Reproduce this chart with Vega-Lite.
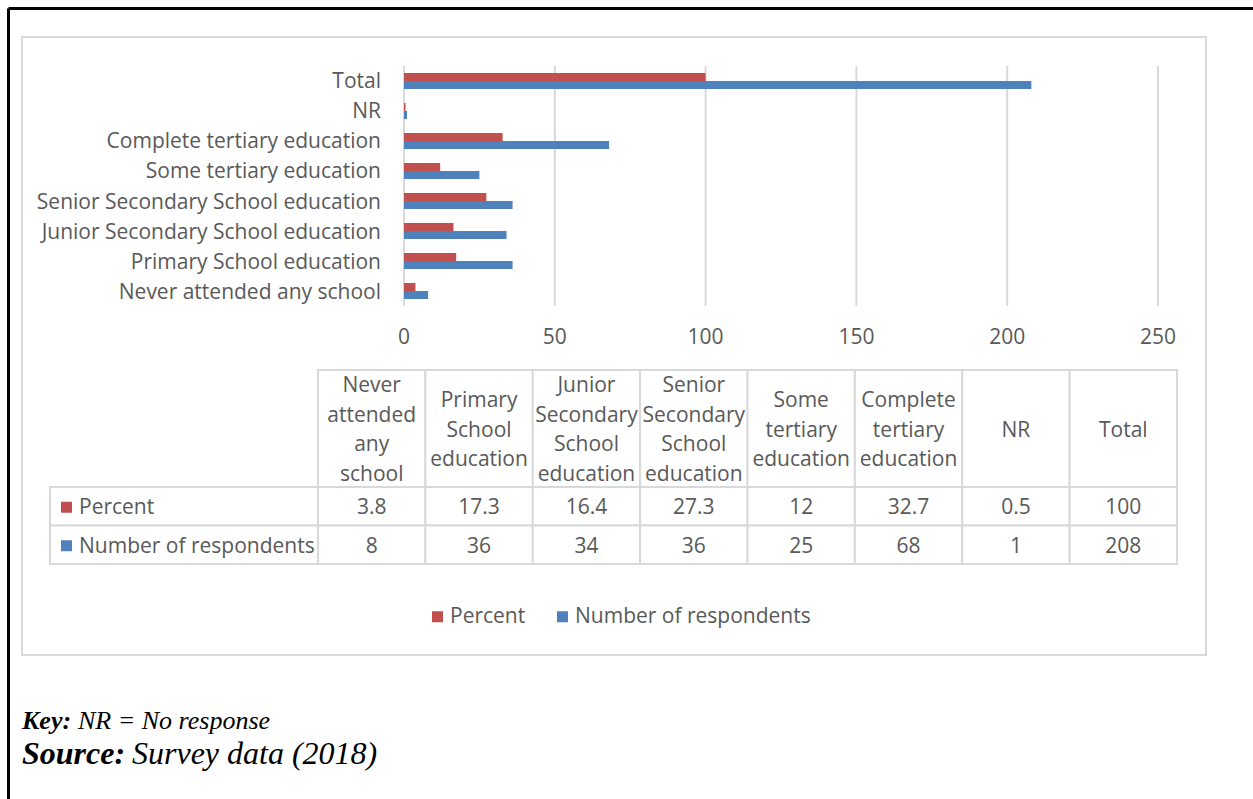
{
  "$schema": "https://vega.github.io/schema/vega-lite/v6.json",
  "width": 1253,
  "height": 799,
  "autosize": {"type": "fit", "contains": "padding"},
  "padding": {"left": 7, "top": 7, "right": 0, "bottom": 0},
  "background": "white",
  "config": {
    "view": {"stroke": null},
    "font": "Open Sans"
  },
  "datasets": {
    "edu": [
      {"Category": "Never attended any school", "Series": "Percent", "Value": 3.8},
      {"Category": "Never attended any school", "Series": "Number of respondents", "Value": 8},
      {"Category": "Primary School education", "Series": "Percent", "Value": 17.3},
      {"Category": "Primary School education", "Series": "Number of respondents", "Value": 36},
      {"Category": "Junior Secondary School education", "Series": "Percent", "Value": 16.4},
      {"Category": "Junior Secondary School education", "Series": "Number of respondents", "Value": 34},
      {"Category": "Senior Secondary School education", "Series": "Percent", "Value": 27.3},
      {"Category": "Senior Secondary School education", "Series": "Number of respondents", "Value": 36},
      {"Category": "Some tertiary education", "Series": "Percent", "Value": 12},
      {"Category": "Some tertiary education", "Series": "Number of respondents", "Value": 25},
      {"Category": "Complete tertiary education", "Series": "Percent", "Value": 32.7},
      {"Category": "Complete tertiary education", "Series": "Number of respondents", "Value": 68},
      {"Category": "NR", "Series": "Percent", "Value": 0.5},
      {"Category": "NR", "Series": "Number of respondents", "Value": 1},
      {"Category": "Total", "Series": "Percent", "Value": 100},
      {"Category": "Total", "Series": "Number of respondents", "Value": 208}
    ],
    "cats": [
      {"Category": "Never attended any school", "Header": "Never\nattended\nany\nschool"},
      {"Category": "Primary School education", "Header": "Primary\nSchool\neducation"},
      {"Category": "Junior Secondary School education", "Header": "Junior\nSecondary\nSchool\neducation"},
      {"Category": "Senior Secondary School education", "Header": "Senior\nSecondary\nSchool\neducation"},
      {"Category": "Some tertiary education", "Header": "Some\ntertiary\neducation"},
      {"Category": "Complete tertiary education", "Header": "Complete\ntertiary\neducation"},
      {"Category": "NR", "Header": "NR"},
      {"Category": "Total", "Header": "Total"}
    ],
    "ticks": [{"Tick": 0}, {"Tick": 50}, {"Tick": 100}, {"Tick": 150}, {"Tick": 200}, {"Tick": 250}],
    "notes": [
      {"Line": "Key", "Label": "Key:", "Note": "NR = No response"},
      {"Line": "Source", "Label": "Source:", "Note": "Survey data (2018)"}
    ]
  },
  "layer": [
    {
      "data": {"values": [{"Frame": "page"}]},
      "encoding": {
        "x": {"datum": 0, "type": "quantitative", "scale": {"domain": [0, 2], "range": [1.5, 1246]}, "axis": null},
        "y": {"datum": 0, "type": "quantitative", "scale": {"domain": [0, 2], "range": [1.5, 792]}, "axis": null}
      },
      "layer": [
        {
          "mark": {"type": "rule", "stroke": "#000000", "strokeWidth": 3},
          "encoding": {"y2": {"datum": 2}}
        },
        {
          "mark": {"type": "rule", "stroke": "#000000", "strokeWidth": 3},
          "encoding": {"x2": {"datum": 2}}
        }
      ]
    },
    {
      "data": {"values": [{"Box": "chart area"}]},
      "mark": {"type": "rect", "fill": "white", "stroke": "#d9d9d9", "strokeWidth": 2},
      "encoding": {
        "x": {"datum": 0, "type": "quantitative", "scale": {"domain": [0, 1], "range": [15, 1199]}, "axis": null},
        "x2": {"datum": 1},
        "y": {"datum": 0, "type": "quantitative", "scale": {"domain": [0, 1], "range": [30, 648]}, "axis": null},
        "y2": {"datum": 1}
      }
    },
    {
      "data": {"name": "ticks"},
      "layer": [
        {
          "mark": {"type": "rule", "stroke": "#d9d9d9", "strokeWidth": 2},
          "encoding": {
            "x": {"field": "Tick", "type": "quantitative", "scale": {"domain": [0, 250], "range": [397, 1151], "nice": false}, "axis": null},
            "y": {"datum": 0, "type": "quantitative", "scale": {"domain": [0, 1], "range": [299, 59]}, "axis": null},
            "y2": {"datum": 1}
          }
        },
        {
          "mark": {"type": "text", "fontSize": 21, "fill": "#595959", "baseline": "middle", "dy": 32},
          "encoding": {
            "x": {"field": "Tick", "type": "quantitative"},
            "y": {"datum": 0, "type": "quantitative"},
            "text": {"field": "Tick", "type": "quantitative"}
          }
        }
      ]
    },
    {
      "data": {"name": "edu"},
      "layer": [
        {
          "mark": {"type": "bar"},
          "encoding": {
            "y": {"field": "Category", "type": "nominal",
              "scale": {"domain": ["Total", "NR", "Complete tertiary education", "Some tertiary education", "Senior Secondary School education", "Junior Secondary School education", "Primary School education", "Never attended any school"],
                "range": [59, 299], "paddingInner": 0.467, "paddingOuter": 0.233}, "axis": null},
            "yOffset": {"field": "Series", "type": "nominal", "scale": {"domain": ["Percent", "Number of respondents"], "paddingInner": 0, "paddingOuter": 0}},
            "x": {"field": "Value", "type": "quantitative", "scale": {"domain": [0, 250], "range": [397, 1151], "nice": false}, "axis": null},
            "color": {"field": "Series", "type": "nominal",
              "scale": {"domain": ["Percent", "Number of respondents"], "range": ["#c0504d", "#4f81bd"]},
              "legend": {"orient": "none", "legendX": 420, "legendY": 599, "direction": "horizontal", "title": null,
                "symbolType": "square", "symbolSize": 121, "symbolStrokeWidth": 0, "symbolOpacity": 1,
                "labelFontSize": 21, "labelColor": "#595959", "labelFont": "Open Sans", "labelOffset": 2,
                "labelLimit": 500, "columnPadding": 26, "padding": 0}}
          }
        },
        {
          "transform": [{"filter": "datum.Series === 'Percent'"}],
          "mark": {"type": "text", "align": "right", "baseline": "middle", "dx": -23, "dy": 1.5, "fontSize": 21, "fill": "#595959"},
          "encoding": {
            "y": {"field": "Category", "type": "nominal"},
            "x": {"datum": 0, "type": "quantitative"},
            "text": {"field": "Category", "type": "nominal"}
          }
        }
      ]
    },
    {
      "data": {"name": "cats"},
      "encoding": {
        "x": {"field": "Category", "type": "nominal",
          "scale": {"domain": ["Never attended any school", "Primary School education", "Junior Secondary School education", "Senior Secondary School education", "Some tertiary education", "Complete tertiary education", "NR", "Total"],
            "range": [311, 1170], "paddingInner": 0, "paddingOuter": 0}, "axis": null}
      },
      "layer": [
        {
          "mark": {"type": "rect", "fill": "white", "stroke": "#d9d9d9", "strokeWidth": 2},
          "encoding": {
            "y": {"datum": 0, "type": "quantitative", "scale": {"domain": [0, 1], "range": [363, 480]}, "axis": null},
            "y2": {"datum": 1}
          }
        },
        {
          "transform": [{"filter": "split(datum.Header, '\\n').length === 4"}],
          "mark": {"type": "text", "lineBreak": "\n", "lineHeight": 29.5, "fontSize": 21, "fill": "#595959", "baseline": "middle", "dy": -42.25},
          "encoding": {
            "y": {"datum": 0.5, "type": "quantitative"},
            "text": {"field": "Header", "type": "nominal"}
          }
        },
        {
          "transform": [{"filter": "split(datum.Header, '\\n').length === 3"}],
          "mark": {"type": "text", "lineBreak": "\n", "lineHeight": 29.5, "fontSize": 21, "fill": "#595959", "baseline": "middle", "dy": -27.5},
          "encoding": {
            "y": {"datum": 0.5, "type": "quantitative"},
            "text": {"field": "Header", "type": "nominal"}
          }
        },
        {
          "transform": [{"filter": "split(datum.Header, '\\n').length === 1"}],
          "mark": {"type": "text", "fontSize": 21, "fill": "#595959", "baseline": "middle", "dy": 2},
          "encoding": {
            "y": {"datum": 0.5, "type": "quantitative"},
            "text": {"field": "Header", "type": "nominal"}
          }
        }
      ]
    },
    {
      "data": {"name": "edu"},
      "layer": [
        {
          "mark": {"type": "rect", "fill": "white", "stroke": "#d9d9d9", "strokeWidth": 2},
          "encoding": {
            "x": {"field": "Category", "type": "nominal",
              "scale": {"domain": ["Never attended any school", "Primary School education", "Junior Secondary School education", "Senior Secondary School education", "Some tertiary education", "Complete tertiary education", "NR", "Total"],
                "range": [311, 1170], "paddingInner": 0, "paddingOuter": 0}, "axis": null},
            "y": {"field": "Series", "type": "nominal", "scale": {"domain": ["Percent", "Number of respondents"], "range": [480, 557], "paddingInner": 0, "paddingOuter": 0}, "axis": null}
          }
        },
        {
          "mark": {"type": "text", "fontSize": 21, "fill": "#595959", "baseline": "middle", "dy": 2},
          "encoding": {
            "x": {"field": "Category", "type": "nominal"},
            "y": {"field": "Series", "type": "nominal"},
            "text": {"field": "Value", "type": "quantitative"}
          }
        }
      ]
    },
    {
      "data": {"name": "edu"},
      "transform": [{"filter": "datum.Category === 'Total'"}],
      "layer": [
        {
          "mark": {"type": "rect", "fill": "white", "stroke": "#d9d9d9", "strokeWidth": 2},
          "encoding": {
            "x": {"datum": 0, "type": "quantitative", "scale": {"domain": [0, 1], "range": [43, 311]}, "axis": null},
            "x2": {"datum": 1},
            "y": {"field": "Series", "type": "nominal", "scale": {"domain": ["Percent", "Number of respondents"], "range": [480, 557], "paddingInner": 0, "paddingOuter": 0}, "axis": null}
          }
        },
        {
          "mark": {"type": "point", "shape": "square", "filled": true, "opacity": 1, "size": 121, "xOffset": 16.5, "yOffset": 1, "strokeWidth": 0},
          "encoding": {
            "x": {"datum": 0, "type": "quantitative"},
            "y": {"field": "Series", "type": "nominal"},
            "color": {"field": "Series", "type": "nominal"}
          }
        },
        {
          "mark": {"type": "text", "align": "left", "baseline": "middle", "dx": 29, "dy": 2, "fontSize": 21, "fill": "#595959"},
          "encoding": {
            "x": {"datum": 0, "type": "quantitative"},
            "y": {"field": "Series", "type": "nominal"},
            "text": {"field": "Series", "type": "nominal"}
          }
        }
      ]
    },
    {
      "data": {"name": "notes"},
      "encoding": {
        "x": {"datum": 0, "type": "quantitative", "scale": {"domain": [0, 1], "range": [15, 1199]}, "axis": null},
        "y": {"field": "Line", "type": "nominal", "scale": {"domain": ["Key", "Source"], "range": [704, 774], "paddingInner": 0, "paddingOuter": 0}, "axis": null}
      },
      "layer": [
        {
          "transform": [{"filter": "datum.Line === 'Key'"}],
          "mark": {"type": "text", "align": "left", "baseline": "alphabetic", "font": "Liberation Serif", "fontStyle": "italic", "fontWeight": "bold", "fontSize": 26, "fill": "#000000"},
          "encoding": {"text": {"field": "Label", "type": "nominal"}}
        },
        {
          "transform": [{"filter": "datum.Line === 'Key'"}],
          "mark": {"type": "text", "align": "left", "baseline": "alphabetic", "font": "Liberation Serif", "fontStyle": "italic", "fontSize": 26, "fill": "#000000", "dx": 56},
          "encoding": {"text": {"field": "Note", "type": "nominal"}}
        },
        {
          "transform": [{"filter": "datum.Line === 'Source'"}],
          "mark": {"type": "text", "align": "left", "baseline": "alphabetic", "font": "Liberation Serif", "fontStyle": "italic", "fontWeight": "bold", "fontSize": 32, "fill": "#000000"},
          "encoding": {"text": {"field": "Label", "type": "nominal"}}
        },
        {
          "transform": [{"filter": "datum.Line === 'Source'"}],
          "mark": {"type": "text", "align": "left", "baseline": "alphabetic", "font": "Liberation Serif", "fontStyle": "italic", "fontSize": 32, "fill": "#000000", "dx": 110},
          "encoding": {"text": {"field": "Note", "type": "nominal"}}
        }
      ]
    }
  ],
  "resolve": {"scale": {"x": "independent", "y": "independent"}}
}
